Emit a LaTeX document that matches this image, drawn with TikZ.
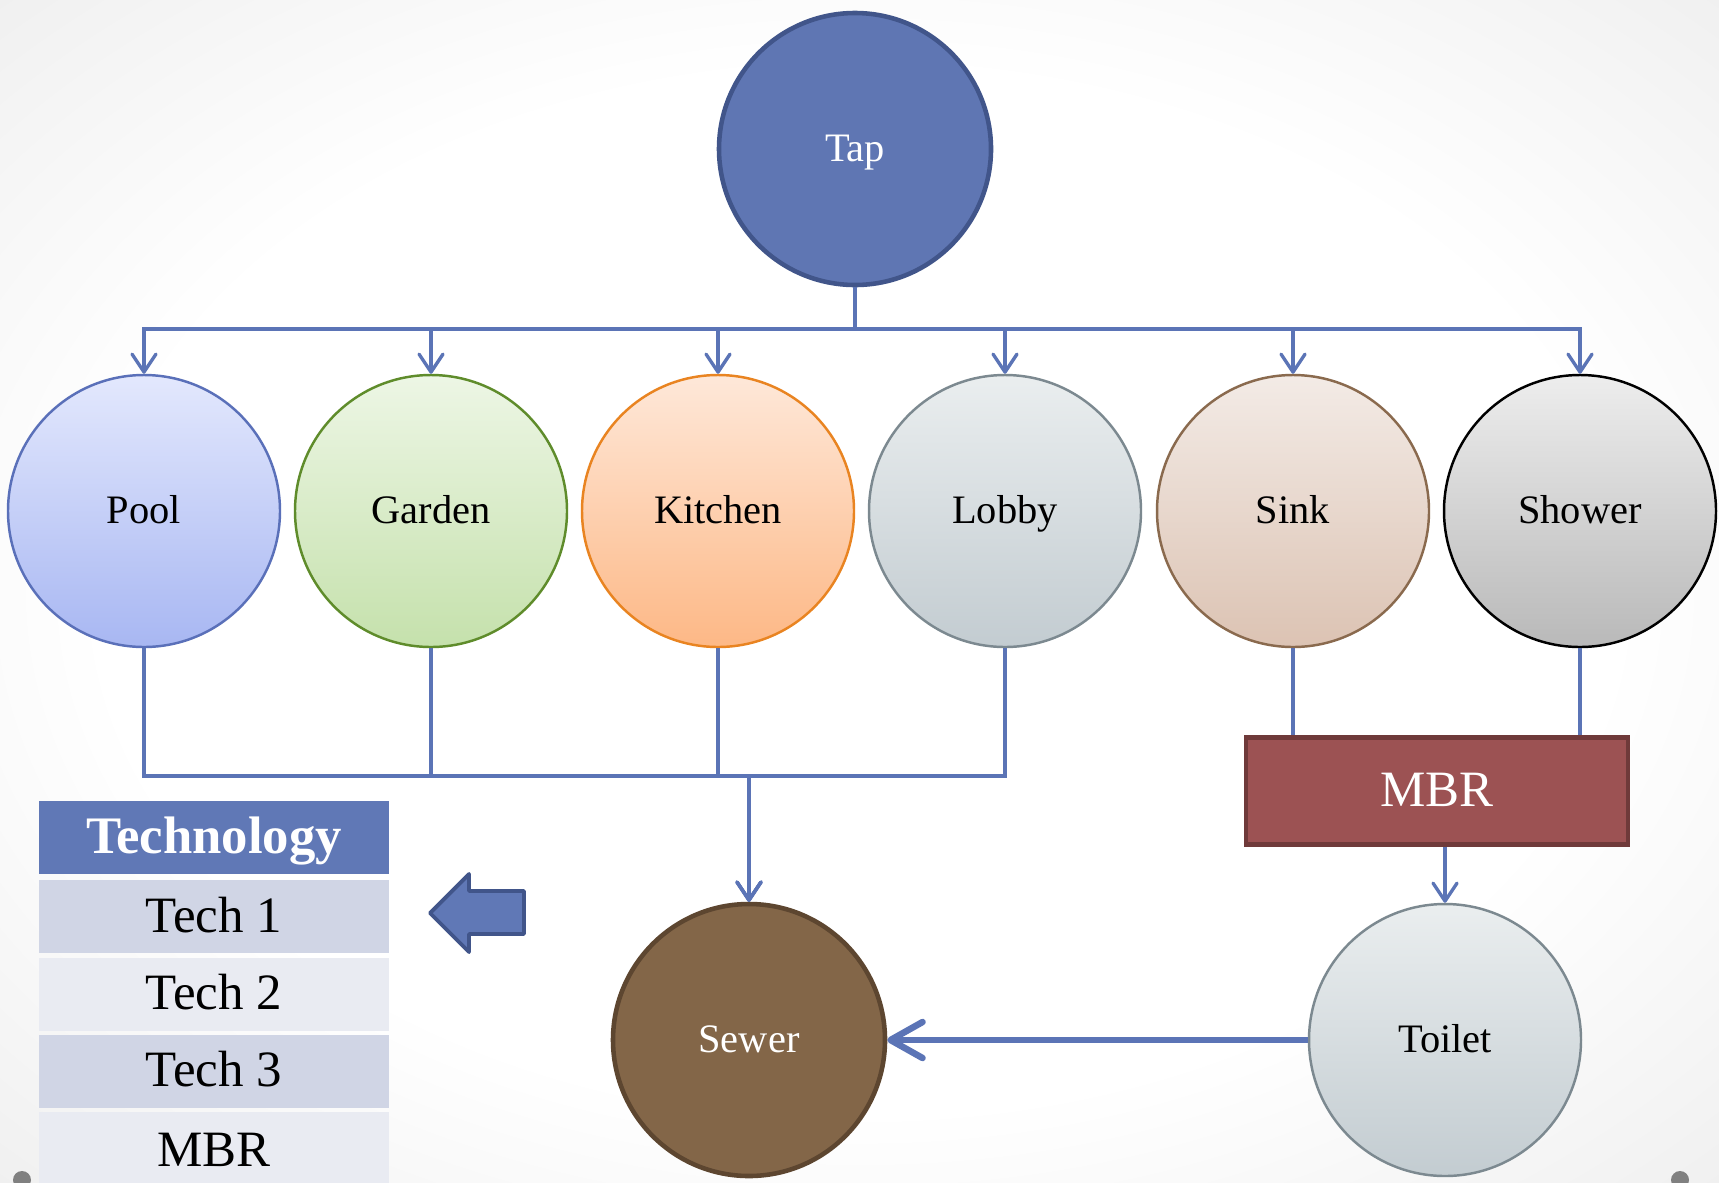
\documentclass[tikz,border=0pt]{standalone}
\usepackage{fontspec}
\setmainfont{Liberation Serif}
\usetikzlibrary{arrows.meta,calc,positioning}

\definecolor{pipe}{HTML}{5B74B6}
\definecolor{slidegrey}{HTML}{E0E0E0}
\definecolor{tapfill}{HTML}{5F76B3}
\definecolor{tapline}{HTML}{41558A}
\definecolor{pooltop}{HTML}{E3E8FD}
\definecolor{poolbot}{HTML}{A8B7F2}
\definecolor{poolline}{HTML}{5A70B9}
\definecolor{gardentop}{HTML}{EDF6E5}
\definecolor{gardenbot}{HTML}{C5E1AC}
\definecolor{gardenline}{HTML}{5F8C2B}
\definecolor{kitchentop}{HTML}{FEE8D9}
\definecolor{kitchenbot}{HTML}{FDB886}
\definecolor{kitchenline}{HTML}{E98421}
\definecolor{lobbytop}{HTML}{EAEEEF}
\definecolor{lobbybot}{HTML}{C3CCD1}
\definecolor{lobbyline}{HTML}{7C8990}
\definecolor{sinktop}{HTML}{F3EBE6}
\definecolor{sinkbot}{HTML}{DCC3B3}
\definecolor{sinkline}{HTML}{8A6A4E}
\definecolor{showertop}{HTML}{EDEDED}
\definecolor{showerbot}{HTML}{B9B9B9}
\definecolor{sewerfill}{HTML}{836648}
\definecolor{sewerline}{HTML}{5D4630}
\definecolor{mbrfill}{HTML}{9C5253}
\definecolor{mbrline}{HTML}{6F3A3A}
\definecolor{techhead}{HTML}{6078B6}
\definecolor{techdark}{HTML}{D0D5E5}
\definecolor{techlight}{HTML}{E9EBF2}

\pgfdeclareradialshading{slide}{\pgfpoint{0bp}{0bp}}{color(0bp)=(white);color(22bp)=(white);color(50bp)=(slidegrey);color(75bp)=(slidegrey)}

\begin{document}
\begin{tikzpicture}[x=0.1mm,y=-0.1mm]
\tikzset{SPOT/.style={draw,circle,minimum size=27.2mm,inner sep=0pt,line width=0.7pt,text height=0.73em,text depth=0.02em,font=\fontsize{11.5}{13}\selectfont}}
\tikzset{SHADED SPOT/.style n args={3}{SPOT,shading=axis,top color=#1,bottom color=#2,draw=#3}}
\tikzset{PLANT/.style={draw=mbrline,fill=mbrfill,line width=1.4pt,minimum width=38.2mm,minimum height=10.7mm,text height=0.9em,text depth=0.02em,text=white,font=\fontsize{14.5}{16}\selectfont}}
\tikzset{CELL/.style={rectangle,inner sep=0pt,minimum width=35mm,minimum height=7.3mm,text height=0.92em,text depth=0.02em,font=\fontsize{14.5}{17}\selectfont}}

\tikzset{FEED/.style={draw=pipe,line width=0.95pt,-{Straight Barb[length=1.8mm,width=2.4mm,round]}}}
\tikzset{PIPE/.style={draw=pipe,line width=0.95pt}}
\tikzset{DRAIN/.style={draw=pipe,line width=1.85pt,-{Straight Barb[length=3.2mm,width=3.6mm,round]}}}

\useasboundingbox (0,0) rectangle (1719,1182);
\shade[shading=slide] (0,0) rectangle (1719,1182);
\fill[black!50] (22,1180) circle (0.9mm);
\fill[black!50] (1680,1180) circle (0.9mm);

\node[SPOT,fill=tapfill,draw=tapline,line width=1.3pt,text=white] (tap) at (855,149) {Tap};
\path (tap)
  -- +(-711,362) node[SHADED SPOT={pooltop}{poolbot}{poolline}] (pool) {Pool}
  -- +(-424,362) node[SHADED SPOT={gardentop}{gardenbot}{gardenline}] (garden) {Garden}
  -- +(-137,362) node[SHADED SPOT={kitchentop}{kitchenbot}{kitchenline}] (kitchen) {Kitchen}
  -- +(150,362) node[SHADED SPOT={lobbytop}{lobbybot}{lobbyline}] (lobby) {Lobby}
  -- +(438,362) node[SHADED SPOT={sinktop}{sinkbot}{sinkline}] (sink) {Sink}
  -- +(725,362) node[SHADED SPOT={showertop}{showerbot}{black}] (shower) {Shower};

\node[PLANT] (mbr) at (1437,791) {MBR};
\node[SPOT,fill=sewerfill,draw=sewerline,line width=1.3pt,text=white] (sewer) at (749,1040) {Sewer};
\node[SHADED SPOT={lobbytop}{lobbybot}{lobbyline}] (toilet) at (1445,1040) {Toilet};

% legend table
\node[CELL,fill=techhead,text=white,font=\fontsize{15}{17}\selectfont\bfseries] (tech head) at (214,837.5) {Technology};
\node[CELL,fill=techdark] (tech one) at (214,916.5) {Tech 1};
\node[CELL,fill=techlight] (tech two) at (214,994) {Tech 2};
\node[CELL,fill=techdark] (tech three) at (214,1071) {Tech 3};
\node[CELL,fill=techlight,minimum height=7.8mm] (tech mbr) at (214,1151) {MBR};

\draw[fill=techhead,draw=tapline,line width=1.1pt,line join=round]
  (430,913) -- (469,874) -- (469,891) -- (524,891) -- (524,934) -- (469,934) -- (469,952) -- cycle;

\coordinate (upper bus) at (0,329);
\coordinate (lower bus) at (0,776);

\path [FEED] (tap.south) -- (tap.south |- upper bus) -| (pool);
\path [FEED] (tap.south) -- (tap.south |- upper bus) -| (garden);
\path [FEED] (tap.south) -- (tap.south |- upper bus) -| (kitchen);
\path [FEED] (tap.south) -- (tap.south |- upper bus) -| (lobby);
\path [FEED] (tap.south) -- (tap.south |- upper bus) -| (sink);
\path [FEED] (tap.south) -- (tap.south |- upper bus) -| (shower);

\path [FEED] (pool) |- (sewer |- lower bus) -- (sewer);
\path [FEED] (garden) |- (sewer |- lower bus) -- (sewer);
\path [FEED] (kitchen) |- (sewer |- lower bus) -- (sewer);
\path [FEED] (lobby) |- (sewer |- lower bus) -- (sewer);

\path [PIPE] (sink) -- (sink |- mbr.north);
\path [PIPE] (shower) -- (shower |- mbr.north);
\path [FEED] (mbr.south -| toilet) -- (toilet);

\path [DRAIN] (toilet) -- (sewer);

\end{tikzpicture}
\end{document}
